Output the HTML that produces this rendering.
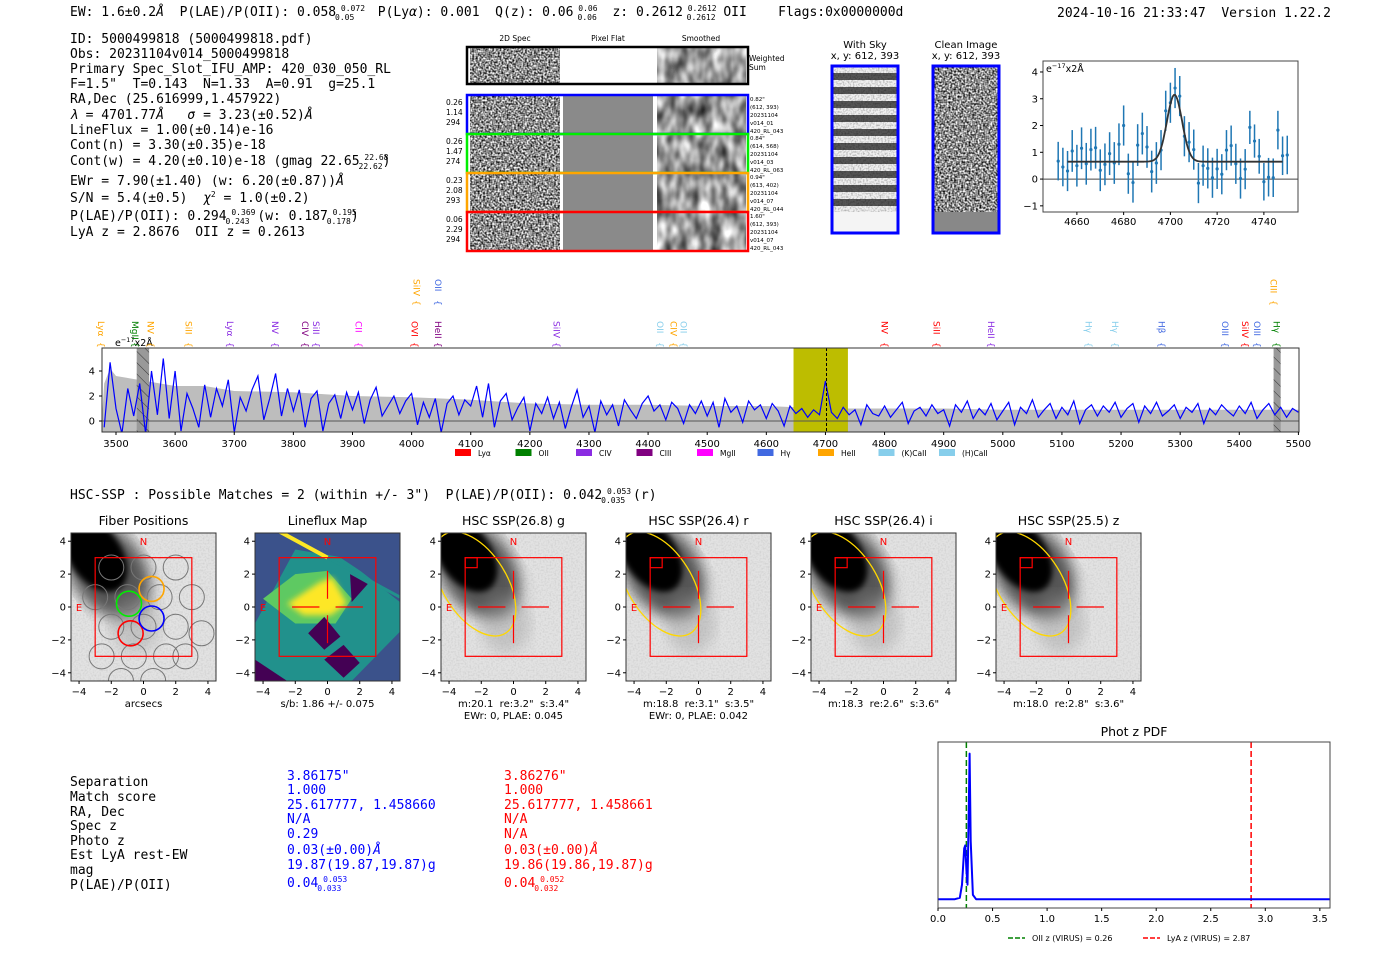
<!DOCTYPE html>
<html><head><meta charset="utf-8">
<style>
html,body{margin:0;padding:0;background:#fff;}
body{width:1400px;height:953px;overflow:hidden;}
svg{display:block;}
text{white-space:pre;}
.mono{font-family:"DejaVu Sans Mono","Liberation Mono",monospace;}
.sans{font-family:"DejaVu Sans","Liberation Sans",sans-serif;}
</style></head>
<body>
<svg id="root" width="1400" height="953" viewBox="0 0 1400 953" xmlns="http://www.w3.org/2000/svg">
<defs>
  <filter id="noise" x="0" y="0" width="100%" height="100%" color-interpolation-filters="sRGB">
    <feTurbulence type="fractalNoise" baseFrequency="0.55" numOctaves="1" seed="3"/>
    <feColorMatrix type="matrix" values="2 0 0 0 -0.45  2 0 0 0 -0.45  2 0 0 0 -0.45  0 0 0 0 1"/>
  </filter>
  <filter id="grain" x="0" y="0" width="100%" height="100%" color-interpolation-filters="sRGB">
    <feTurbulence type="fractalNoise" baseFrequency="0.6" numOctaves="1" seed="7"/>
    <feColorMatrix type="matrix" values="0 0 0 0 0  0 0 0 0 0  0 0 0 0 0  0 0 0 -1.2 0.7"/>
  </filter>
  <filter id="smooth" x="0" y="0" width="100%" height="100%" color-interpolation-filters="sRGB">
    <feTurbulence type="fractalNoise" baseFrequency="0.09 0.05" numOctaves="2" seed="11"/>
    <feColorMatrix type="matrix" values="1.2 0 0 0 0  1.2 0 0 0 0  1.2 0 0 0 0  0 0 0 0 1"/>
  </filter>
  <filter id="blur6"><feGaussianBlur stdDeviation="7"/></filter>
  <filter id="blur3"><feGaussianBlur stdDeviation="3"/></filter>
  <pattern id="skystripes" width="10" height="14" patternUnits="userSpaceOnUse">
    <rect width="10" height="14" fill="#f0f0f0"/><rect y="3" width="10" height="7" fill="#555"/>
  </pattern>
  <pattern id="hatch" width="8" height="8" patternUnits="userSpaceOnUse" patternTransform="rotate(-45)">
    <rect width="8" height="8" fill="#999"/><line x1="0" y1="0" x2="0" y2="8" stroke="#333" stroke-width="1"/>
  </pattern>
  <clipPath id="specclip"><rect x="102" y="348" width="1197" height="84"/></clipPath>
  <clipPath id="fitclip"><rect x="1043" y="61" width="255" height="151"/></clipPath>
  <clipPath id="pdfclip"><rect x="938" y="742" width="392" height="166"/></clipPath>
</defs>

<!-- header -->
<g class="mono" font-size="13" fill="#000">
  <text x="70" y="16">EW: 1.6±0.2<tspan font-style="italic">Å</tspan>  P(LAE)/P(OII): 0.058<tspan font-size="8" dy="-5"> 0.072</tspan><tspan font-size="8" dx="-30" dy="9">0.05</tspan><tspan dy="-4">   P(Ly<tspan font-style="italic">α</tspan>): 0.001  Q(z): 0.06</tspan><tspan font-size="8" dy="-5"> 0.06</tspan><tspan font-size="8" dx="-20" dy="9">0.06</tspan><tspan dy="-4">  z: 0.2612</tspan><tspan font-size="8" dy="-5"> 0.2612</tspan><tspan font-size="8" dx="-30" dy="9">0.2612</tspan><tspan dy="-4"> OII    Flags:0x0000000d</tspan></text>
  <text x="1057" y="17">2024-10-16 21:33:47  Version 1.22.2</text>
</g>

<!-- info block -->
<g class="mono" font-size="13" fill="#000">
  <text x="70" y="43">ID: 5000499818 (5000499818.pdf)</text>
  <text x="70" y="58">Obs: 20231104v014_5000499818</text>
  <text x="70" y="73">Primary Spec_Slot_IFU_AMP: 420_030_050_RL</text>
  <text x="70" y="88">F=1.5"  T=0.143  N=1.33  A=0.91  g=25.1</text>
  <text x="70" y="103">RA,Dec (25.616999,1.457922)</text>
  <text x="70" y="119"><tspan font-style="italic">λ</tspan> = 4701.77<tspan font-style="italic">Å</tspan>   <tspan font-style="italic">σ</tspan> = 3.23(±0.52)<tspan font-style="italic">Å</tspan></text>
  <text x="70" y="134">LineFlux = 1.00(±0.14)e-16</text>
  <text x="70" y="149">Cont(n) = 3.30(±0.35)e-18</text>
  <text x="70" y="165">Cont(w) = 4.20(±0.10)e-18 (gmag 22.65<tspan font-size="8" dy="-5"> 22.68</tspan><tspan font-size="8" dx="-30" dy="9">22.62</tspan><tspan dy="-4">)</tspan></text>
  <text x="70" y="185">EWr = 7.90(±1.40) (w: 6.20(±0.87))<tspan font-style="italic">Å</tspan></text>
  <text x="70" y="202">S/N = 5.4(±0.5)  <tspan font-style="italic">χ</tspan><tspan font-size="8" dy="-5">2</tspan><tspan dy="5"> = 1.0(±0.2)</tspan></text>
  <text x="70" y="220">P(LAE)/P(OII): 0.294<tspan font-size="8" dy="-5"> 0.369</tspan><tspan font-size="8" dx="-30" dy="9">0.243</tspan><tspan dy="-4"> (w: 0.187</tspan><tspan font-size="8" dy="-5"> 0.195</tspan><tspan font-size="8" dx="-30" dy="9">0.178</tspan><tspan dy="-4">)</tspan></text>
  <text x="70" y="236">LyA z = 2.8676  OII z = 0.2613</text>
</g>

<!-- 2D spectra cutouts -->
<g id="cutouts" class="sans">
  <text x="515" y="41" font-size="7.5" text-anchor="middle">2D Spec</text>
  <text x="608" y="41" font-size="7.5" text-anchor="middle">Pixel Flat</text>
  <text x="701" y="41" font-size="7.5" text-anchor="middle">Smoothed</text>
</g>

<!-- with sky / clean image -->
<g class="sans" font-size="10" text-anchor="middle">
  <text x="865" y="48">With Sky</text><text x="865" y="59">x, y: 612, 393</text>
  <text x="966" y="48">Clean Image</text><text x="966" y="59">x, y: 612, 393</text>
  <rect x="832" y="66" width="66" height="167" fill="url(#skystripes)"/>
  <rect x="832" y="66" width="66" height="167" filter="url(#grain)" opacity="0.6"/>
  <rect x="832" y="212" width="66" height="21" fill="#f4f4f4"/>
  <rect x="832" y="66" width="66" height="167" fill="none" stroke="#0000ff" stroke-width="3"/>
  <rect x="933" y="66" width="66" height="167" fill="#888"/>
  <rect x="933" y="66" width="66" height="146" filter="url(#noise)"/>
  <rect x="933" y="66" width="66" height="167" fill="none" stroke="#0000ff" stroke-width="3"/>
</g>

<g id="fit" class="sans"></g>
<g id="spec" class="sans"></g>

<text x="70" y="499" class="mono" font-size="13">HSC-SSP : Possible Matches = 2 (within +/- 3")  P(LAE)/P(OII): 0.042<tspan font-size="8" dy="-5"> 0.053</tspan><tspan font-size="8" dx="-30" dy="9">0.035</tspan><tspan dy="-4"> (r)</tspan></text>

<g id="panels" class="sans"></g>

<!-- match table -->
<g class="mono" font-size="13">
  <g fill="#000">
    <text x="70" y="786">Separation</text><text x="70" y="801">Match score</text><text x="70" y="816">RA, Dec</text>
    <text x="70" y="830">Spec z</text><text x="70" y="845">Photo z</text><text x="70" y="859">Est LyA rest-EW</text>
    <text x="70" y="874">mag</text><text x="70" y="889">P(LAE)/P(OII)</text>
  </g>
  <g fill="#0000ff">
    <text x="287" y="780">3.86175"</text><text x="287" y="794">1.000</text><text x="287" y="809">25.617777, 1.458660</text>
    <text x="287" y="823">N/A</text><text x="287" y="838">0.29</text><text x="287" y="854">0.03(±0.00)<tspan font-style="italic">Å</tspan></text>
    <text x="287" y="869">19.87(19.87,19.87)g</text>
    <text x="287" y="887">0.04<tspan font-size="8" dy="-5"> 0.053</tspan><tspan font-size="8" dx="-30" dy="9">0.033</tspan></text>
  </g>
  <g fill="#ff0000">
    <text x="504" y="780">3.86276"</text><text x="504" y="794">1.000</text><text x="504" y="809">25.617777, 1.458661</text>
    <text x="504" y="823">N/A</text><text x="504" y="838">N/A</text><text x="504" y="854">0.03(±0.00)<tspan font-style="italic">Å</tspan></text>
    <text x="504" y="869">19.86(19.86,19.87)g</text>
    <text x="504" y="887">0.04<tspan font-size="8" dy="-5"> 0.052</tspan><tspan font-size="8" dx="-30" dy="9">0.032</tspan></text>
  </g>
</g>

<g id="pdf" class="sans"></g>
</svg>

<script>
// ---------- data ----------
const fitWave = [4652,4654,4656,4658,4660,4662,4664,4666,4668,4670,4672,4674,4676,4678,4680,4682,4684,4686,4688,4690,4692,4694,4696,4698,4700,4702,4704,4706,4708,4710,4712,4714,4716,4718,4720,4722,4724,4726,4728,4730,4732,4734,4736,4738,4740,4742,4744,4746,4748,4750];
const fitFlux = [0.67,0.45,0.3,1.05,0.5,1.15,0.57,1.1,1.17,0.33,0.55,0.95,0.6,1.3,2.0,0.2,-0.13,1.27,1.7,1.2,0.28,0.6,1.08,2.55,2.85,3.4,3.1,1.6,1.38,1.1,-0.15,0.5,0.4,0.05,0.38,0.18,1.08,1.25,0.57,0.02,0.37,1.93,1.42,0.85,-0.1,0.07,0.05,1.83,0.87,0.9];
const fitErr = [0.72,0.72,0.75,0.78,0.78,0.78,0.78,0.78,0.78,0.78,0.78,0.8,0.78,0.78,0.75,0.75,0.75,0.78,0.78,0.78,0.78,0.78,0.75,0.75,0.75,0.75,0.75,0.75,0.75,0.75,0.75,0.75,0.75,0.75,0.75,0.75,0.75,0.75,0.75,0.75,0.75,0.62,0.62,0.65,0.7,0.72,0.72,0.72,0.72,0.72];
const fitModel = {cont:0.65, amp:2.5, mu:4701.77, sigma:3.23, from:4656, to:4748};
const fitXTicks = [4660,4680,4700,4720,4740];
const fitYTicks = [-1,0,1,2,3,4];

const specStart = 3480, specStep = 10;
const specFlux = [-0.5,4.7,1.0,-1,2.6,0.4,3.0,-1,4.0,0.5,5.0,0.2,
4.0,-0.8,2.2,1.0,-0.5,2.9,0.3,2.6,1.2,3.3,
-0.9,1.9,0.8,2.5,3.6,0.1,1.8,3.8,0.4,2.6,
0.8,2.5,-0.5,1.8,2.4,-0.8,1.4,2.1,0.2,2.3,
0.9,2.3,-0.2,1.7,2.7,0.4,1.2,2.0,0.6,1.6,
2.2,-0.3,1.5,0.3,1.8,-0.9,1.4,2.0,0.5,1.7,
1.2,2.8,0.3,3.0,-0.5,1.6,2.2,0.1,1.1,1.9,
-0.8,1.4,0.6,1.9,0.2,1.5,-0.6,1.1,2.5,0.3,
1.2,-0.9,1.6,0.5,1.3,-0.4,1.7,0.9,0.2,1.4,
2.0,0.8,1.3,0.1,1.5,1.0,-0.2,1.3,0.6,1.6,
0.4,1.5,-0.5,1.8,0.7,1.2,-0.1,1.6,0.9,1.3,
0.2,1.4,0.8,-0.4,1.2,0.6,1.0,0.3,0.9,0.5,
3.2,0.7,0.2,1.1,0.5,0.9,-0.3,1.3,0.6,0.4,
1.2,0.3,0.9,1.5,-0.2,0.8,1.1,0.4,1.3,0.6,
0.9,-0.4,1.3,0.7,1.6,0.2,1.0,0.5,1.4,0.1,
0.8,1.5,-0.3,1.1,0.6,1.7,0.3,0.9,1.4,0.2,
1.1,0.5,1.6,-0.2,0.9,1.3,0.4,1.2,0.7,1.5,
0.3,1.0,1.4,-0.1,1.2,0.6,1.5,0.4,0.8,1.3,
0.2,1.1,0.7,1.4,-0.2,1.0,0.5,1.3,0.8,0.4,
1.2,0.6,1.5,0.2,0.9,1.4,0.5,1.1,0.3,1.0,0.7];
const errWave = [3476,3480,3490,3500,3600,3650,3700,3800,3900,4000,4100,4200,4300,4400,4500,4600,4700,4800,4900,5000,5100,5200,5300,5400,5501];
const errLevel = [0,3.0,4.2,3.6,2.8,2.8,2.4,2.3,2.0,1.9,1.7,1.4,1.3,1.3,1.2,1.2,1.0,1.0,1.0,0.9,0.9,0.9,0.9,0.9,0.9];
const specXTicks = [3500,3600,3700,3800,3900,4000,4100,4200,4300,4400,4500,4600,4700,4800,4900,5000,5100,5200,5300,5400,5500];
const specYTicks = [0,2,4];
const lineNames = ["Lyα","MgII","NV","SiII","Lyα","NV","CIV","SiII","CII","OVI","SiIV","OII","HeII","SiIV","OII","CIV","OII","NV","SiII","HeII","Hγ","Hγ","Hβ","OIII","SiIV","OIII","CIII","Hγ"];
const lineWave = [3475,3532,3558,3623,3693,3769,3820,3838,3910,4005,4008,4045,4045,4245,4420,4443,4460,4800,4888,4980,5145,5190,5268,5376,5410,5430,5458,5463];
const lineColor = ["#ffa500","#008000","#ffa500","#ffa500","#8a2be2","#8a2be2","#800080","#8a2be2","#ff00ff","#ff0000","#ffa500","#4169e1","#800080","#8a2be2","#87ceeb","#ffa500","#87ceeb","#ff0000","#ff0000","#8a2be2","#87ceeb","#87ceeb","#4169e1","#4169e1","#ff0000","#4169e1","#ffa500","#008000"];
const lineUpper = [0,0,0,0,0,0,0,0,0,0,1,1,0,0,0,0,0,0,0,0,0,0,0,0,0,0,1,0];
const legendNames = ["Lyα","OII","CIV","CIII","MgII","Hγ","HeII","(K)CaII","(H)CaII"];
const legendColors = ["#ff0000","#008000","#8a2be2","#800080","#ff00ff","#4169e1","#ffa500","#87ceeb","#87ceeb"];

const pdfZ = [0,0.15,0.2,0.22,0.24,0.25,0.26,0.27,0.28,0.29,0.3,0.32,0.35,0.5,1,2,3,3.6];
const pdfP = [0,0,0.01,0.1,0.35,0.37,0.2,0.1,0.5,1.0,0.4,0.03,0,0,0,0,0,0];
const pdfXTicks = [0,0.5,1,1.5,2,2.5,3,3.5];
const pdfMarkers = [0.26,2.87];
const pdfMarkerColors = ["#008000","#ff0000"];
const pdfLegend = ["OII z (VIRUS) = 0.26","LyA z (VIRUS) = 2.87"];

const cutoutLabels = [["0.26","1.14","294"],["0.26","1.47","274"],["0.23","2.08","293"],["0.06","2.29","294"]];
const cutoutInfo = [["0.82\"","(612, 393)","20231104","v014_01","420_RL_043"],["0.84\"","(614, 568)","20231104","v014_03","420_RL_063"],["0.94\"","(613, 402)","20231104","v014_07","420_RL_044"],["1.60\"","(612, 393)","20231104","v014_07","420_RL_043"]];
const cutoutColors = ["#0000ff","#00ee00","#ffa500","#ff0000"];

const panelTitles = ["Fiber Positions","Lineflux Map","HSC SSP(26.8) g","HSC SSP(26.4) r","HSC SSP(26.4) i","HSC SSP(25.5) z"];
const panelCaps = [["arcsecs"],["s/b: 1.86 +/- 0.075"],["m:20.1  re:3.2\"  s:3.4\"","EWr: 0, PLAE: 0.045"],["m:18.8  re:3.1\"  s:3.5\"","EWr: 0, PLAE: 0.042"],["m:18.3  re:2.6\"  s:3.6\""],["m:18.0  re:2.8\"  s:3.6\""]];
const panelTicks = [-4,-2,0,2,4];

// ---------- helpers ----------
const NS = "http://www.w3.org/2000/svg";
function mk(parent, tag, attrs, txt){
  const el = document.createElementNS(NS, tag);
  for (const k in attrs) el.setAttribute(k, attrs[k]);
  if (txt !== undefined) el.textContent = txt;
  parent.appendChild(el);
  return el;
}
function minus(v){ return String(v).replace('-', '−'); }

// ---------- cutouts ----------
(function(){
  const g = document.getElementById('cutouts');
  let r = mk(g,'rect',{x:470,y:48,width:90,height:35,filter:'url(#noise)'});
  
  
  mk(g,'rect',{x:657,y:48,width:89,height:35,filter:'url(#smooth)'});
  let b = mk(g,'rect',{x:467,y:47,width:281,height:37,fill:'none',stroke:'#000','stroke-width':2.5});
  
  
  mk(g,'text',{x:749,y:61,'font-size':7.5},'Weighted');
  mk(g,'text',{x:749,y:70,'font-size':7.5},'Sum');
  const tops = [96,135,174,213];
  tops.forEach((y,i)=>{
    const h = 37;
    const a = mk(g,'rect',{x:470,y:y,width:90,height:h,filter:'url(#noise)'});
    
    
    const p = mk(g,'rect',{x:563,y:y,width:90,height:h,fill:'#8a8a8a'});
    
    
    const s = mk(g,'rect',{x:657,y:y,width:89,height:h,filter:'url(#smooth)'});
    
    
    const f = mk(g,'rect',{x:467,y:y-1,width:281,height:h+2,fill:'none',stroke:cutoutColors[i],'stroke-width':2.5});
    
    
    cutoutLabels[i].forEach((t,j)=>{ mk(g,'text',{x:446,y:y+9+j*10,'font-size':7.5},t); });
    cutoutInfo[i].forEach((t,j)=>{ mk(g,'text',{x:750,y:y+5+j*8,'font-size':5.5},t); });
  });
})();

// ---------- fit plot ----------
(function(){
  const g = document.getElementById('fit');
  const X0=1043,X1=1298,Y0=61,Y1=212, xmin=4645.5,xmax=4754.6,ymin=-1.23,ymax=4.41;
  const sx = v => X0 + (v-xmin)/(xmax-xmin)*(X1-X0);
  const sy = v => Y1 - (v-ymin)/(ymax-ymin)*(Y1-Y0);
  mk(g,'rect',{x:X0,y:Y0,width:X1-X0,height:Y1-Y0,fill:'#fff'});
  const cg = mk(g,'g',{'clip-path':'url(#fitclip)'});
  mk(cg,'line',{x1:X0,x2:X1,y1:sy(0),y2:sy(0),stroke:'#444','stroke-width':1});
  fitWave.forEach((w,i)=>{
    const e = mk(cg,'line',{x1:sx(w),x2:sx(w),y1:sy(fitFlux[i]-fitErr[i]),y2:sy(fitFlux[i]+fitErr[i]),stroke:'#1f77b4','stroke-width':1.5});
    
    
    const c = mk(cg,'circle',{cx:sx(w),cy:sy(fitFlux[i]),r:1.6,fill:'#1f77b4'});
    
    
  });
  let d='';
  for(let w=fitModel.from; w<=fitModel.to; w+=0.5){
    const v = fitModel.cont + fitModel.amp*Math.exp(-0.5*Math.pow((w-fitModel.mu)/fitModel.sigma,2));
    d += (d?'L':'M')+sx(w).toFixed(1)+','+sy(v).toFixed(1);
  }
  const m = mk(cg,'path',{d:d,fill:'none',stroke:'#333','stroke-width':1.8});
  
  
  mk(g,'rect',{x:X0,y:Y0,width:X1-X0,height:Y1-Y0,fill:'none',stroke:'#444','stroke-width':1});
  fitXTicks.forEach(t=>{
    mk(g,'line',{x1:sx(t),x2:sx(t),y1:Y1,y2:Y1+3,stroke:'#000'});
    const tl = mk(g,'text',{x:sx(t),y:Y1+13,'font-size':10,'text-anchor':'middle'},t);
    
    
  });
  fitYTicks.forEach(t=>{
    mk(g,'line',{x1:X0-3,x2:X0,y1:sy(t),y2:sy(t),stroke:'#000'});
    const tl = mk(g,'text',{x:X0-5,y:sy(t)+3.5,'font-size':10,'text-anchor':'end'},minus(t));
    
    
  });
  const u = mk(g,'text',{x:X0+3,y:Y0+11,'font-size':9.5},'e');
  
  
  mk(u,'tspan',{'font-size':6.5,dy:-4},'−17');
  mk(u,'tspan',{dy:4},'x2Å');
})();

// ---------- full spectrum ----------
(function(){
  const g = document.getElementById('spec');
  const X0=102,X1=1299,Y0=348,Y1=432, xmin=3476.3,xmax=5501,ymin=-0.88,ymax=5.84;
  const sx = v => X0 + (v-xmin)/(xmax-xmin)*(X1-X0);
  const sy = v => Y1 - (v-ymin)/(ymax-ymin)*(Y1-Y0);
  const cg = mk(g,'g',{'clip-path':'url(#specclip)'});
  let d = 'M'+sx(errWave[0])+','+Y1;
  errWave.forEach((w,i)=>{ d += 'L'+sx(w).toFixed(1)+','+sy(errLevel[i]).toFixed(1); });
  d += 'L'+sx(errWave[errWave.length-1])+','+Y1+'Z';
  const eb = mk(cg,'path',{d:d,fill:'#bdbdbd'});
  
  
  const band = mk(cg,'rect',{x:sx(4646),y:Y0,width:sx(4738)-sx(4646),height:Y1-Y0,fill:'#bdbd00'});
  
  
  const h1 = mk(cg,'rect',{x:sx(3535),y:Y0,width:sx(3556)-sx(3535),height:Y1-Y0,fill:'url(#hatch)'});
  
  
  const h2 = mk(cg,'rect',{x:sx(5458),y:Y0,width:sx(5470)-sx(5458),height:Y1-Y0,fill:'url(#hatch)'});
  
  
  mk(cg,'line',{x1:X0,x2:X1,y1:sy(0),y2:sy(0),stroke:'#555','stroke-width':1});
  let p='';
  specFlux.forEach((v,i)=>{ p += (i?'L':'M')+sx(specStart+i*specStep).toFixed(1)+','+sy(v).toFixed(1); });
  const sl = mk(cg,'path',{d:p,fill:'none',stroke:'#0000ff','stroke-width':1.2});
  
  
  mk(cg,'line',{x1:sx(4701.77),x2:sx(4701.77),y1:Y0,y2:Y1,stroke:'#000','stroke-width':1,'stroke-dasharray':'3,2'});
  mk(g,'rect',{x:X0,y:Y0,width:X1-X0,height:Y1-Y0,fill:'none',stroke:'#333','stroke-width':1});
  specXTicks.forEach(t=>{
    mk(g,'line',{x1:sx(t),x2:sx(t),y1:Y1,y2:Y1+3,stroke:'#000'});
    const tl = mk(g,'text',{x:sx(t),y:Y1+15,'font-size':10,'text-anchor':'middle'},t);
    
    
  });
  specYTicks.forEach(t=>{
    mk(g,'line',{x1:X0-3,x2:X0,y1:sy(t),y2:sy(t),stroke:'#000'});
    const tl = mk(g,'text',{x:X0-7,y:sy(t)+3.5,'font-size':10,'text-anchor':'end'},t);
    
    
  });
  const u = mk(g,'text',{x:115,y:346,'font-size':9.5},'e');
  
  
  mk(u,'tspan',{'font-size':6.5,dy:-4},'−17');
  mk(u,'tspan',{dy:4},'x2Å');
  lineNames.forEach((n,i)=>{
    const x = sx(lineWave[i]);
    const top = lineUpper[i] ? 279 : 321;
    const t = mk(g,'text',{x:0,y:0,'font-size':9,fill:lineColor[i],transform:'translate('+(x-3)+','+top+') rotate(90)'},n);
    
    
    const br = mk(g,'text',{x:0,y:0,'font-size':9,fill:lineColor[i],transform:'translate('+(x-3)+','+(top+21)+') rotate(90)'},'{');
    
    
  });
  legendNames.forEach((n,i)=>{
    const lx = 455 + i*60.5;
    const r = mk(g,'rect',{x:lx,y:449,width:16,height:7,fill:legendColors[i]});
    
    
    const t = mk(g,'text',{x:lx+23,y:456,'font-size':7.5},n);
    
    
  });
})();

// ---------- imaging panels ----------
(function(){
  const g = document.getElementById('panels');
  const lefts = [71,255,441,626,811,996];
  const W=145, H=148, TOP=533;
  lefts.forEach((L,pi)=>{
    const sx = v => L + (v+4.5)/9*W;
    const sy = v => TOP + (4.5-v)/9*H;
    const pg = mk(g,'g',{});
    
    
    const cid = 'pc'+pi;
    const cp = mk(pg,'clipPath',{id:cid});
    mk(cp,'rect',{x:L,y:TOP,width:W,height:H});
    const ig = mk(pg,'g',{'clip-path':'url(#'+cid+')'});
    if(pi===1){
      mk(ig,'rect',{x:L,y:TOP,width:W,height:H,fill:'#3b528b'});
      mk(ig,'polygon',{points:[[sx(-4.5),sy(-1)],[sx(-2),sy(3.5)],[sx(1),sy(3)],[sx(4.5),sy(0.3)],[sx(4.5),sy(-1.5)],[sx(1.5),sy(-4.5)],[sx(-4.5),sy(-4.5)]].join(' '),fill:'#21918c'});
      mk(ig,'polygon',{points:[[sx(-4),sy(0.5)],[sx(-2),sy(2)],[sx(0),sy(2.2)],[sx(1.5),sy(0.5)],[sx(0.5),sy(-1)],[sx(-2),sy(-1)]].join(' '),fill:'#5ec962'});
      mk(ig,'polygon',{points:[[sx(-2.5),sy(0.2)],[sx(-0.5),sy(1.5)],[sx(0.3),sy(1.8)],[sx(1.2),sy(0.2)],[sx(0.2),sy(-0.5)],[sx(-1.5),sy(-0.5)]].join(' '),fill:'#fde725',filter:'url(#blur3)'});
      mk(ig,'polygon',{points:[[sx(-1.2),sy(-1.6)],[sx(-0.2),sy(-0.6)],[sx(0.8),sy(-1.8)],[sx(-0.2),sy(-2.6)]].join(' '),fill:'#440154'});
      mk(ig,'polygon',{points:[[sx(1.4),sy(2)],[sx(2.5),sy(1.4)],[sx(1.5),sy(0.3)]].join(' '),fill:'#440154'});
      mk(ig,'polygon',{points:[[sx(-4.5),sy(-3.2)],[sx(-2.5),sy(-4.5)],[sx(-4.5),sy(-4.5)]].join(' '),fill:'#440154'});
      mk(ig,'polygon',{points:[[sx(-0.2),sy(-3.2)],[sx(1),sy(-2.3)],[sx(2),sy(-3.4)],[sx(1),sy(-4.3)]].join(' '),fill:'#440154'});
      mk(ig,'polygon',{points:[[sx(-1.5),sy(4.5)],[sx(4.5),sy(0.6)],[sx(4.5),sy(4.5)]].join(' '),fill:'#3b528b'});
      mk(ig,'line',{x1:sx(-3),y1:sy(4.6),x2:sx(0),y2:sy(3),stroke:'#fde725','stroke-width':4});
      mk(ig,'line',{x1:sx(0),y1:sy(3),x2:sx(4.5),y2:sy(0.6),stroke:'#21918c','stroke-width':3});
    } else {
      mk(ig,'rect',{x:L,y:TOP,width:W,height:H,fill:'#e2e2e2'});
      mk(ig,'rect',{x:L,y:TOP,width:W,height:H,filter:'url(#grain)',opacity:0.15});
      mk(ig,'ellipse',{cx:sx(-2.2),cy:sy(2.2),rx:36,ry:52,fill:'#555',transform:'rotate(-35 '+sx(-2.2)+' '+sy(2.2)+')',filter:'url(#blur6)'});
      mk(ig,'ellipse',{cx:sx(-3),cy:sy(3.2),rx:26,ry:42,fill:'#000',transform:'rotate(-35 '+sx(-3)+' '+sy(3.2)+')',filter:'url(#blur3)'});
      mk(ig,'ellipse',{cx:sx(-0.5),cy:sy(-1),rx:25,ry:30,fill:'#999',opacity:0.4,filter:'url(#blur6)'});
    }
    if(pi===0){
      const fibers=[[-2,2.4],[0,2.4],[2,2.4],[-3,0.6],[-1,0.6],[1,0.6],[3,0.6],[-2,-1.2],[0,-1.2],[2,-1.2],[3.6,-1.6],[-2.6,-3],[-0.6,-3],[1.4,-3],[-1.4,-4.5],[0.6,-4.5],[2.6,-3]];
      fibers.forEach(f=>{ mk(ig,'circle',{cx:sx(f[0]),cy:sy(f[1]),r:12.5,fill:'none',stroke:'#777','stroke-width':1}); });
      [[-0.9,0.2,'#00ee00'],[0.5,1.1,'#ffa500'],[-0.8,-1.6,'#ff0000'],[0.5,-0.7,'#0000ff']].forEach(f=>{
        const c = mk(ig,'circle',{cx:sx(f[0]),cy:sy(f[1]),r:12.5,fill:'none',stroke:f[2],'stroke-width':1.6});
        
        
      });
    }
    if(pi>=2){
      mk(ig,'ellipse',{cx:sx(-2.4),cy:sy(1.4),rx:32,ry:58,fill:'none',stroke:'#ffd700','stroke-width':1.3,transform:'rotate(-32 '+sx(-2.4)+' '+sy(1.4)+')'});
      mk(ig,'rect',{x:sx(-3),y:sy(3),width:12,height:10,fill:'none',stroke:'#ff0000','stroke-width':1.2});
    }
    mk(ig,'rect',{x:sx(-3),y:sy(3),width:sx(3)-sx(-3),height:sy(-3)-sy(3),fill:'none',stroke:'#ff0000','stroke-width':1.2});
    if(pi>=1){
      mk(ig,'line',{x1:sx(-2.2),x2:sx(-0.5),y1:sy(0),y2:sy(0),stroke:'#ff0000','stroke-width':1.2});
      mk(ig,'line',{x1:sx(0.5),x2:sx(2.2),y1:sy(0),y2:sy(0),stroke:'#ff0000','stroke-width':1.2});
      mk(ig,'line',{x1:sx(0),x2:sx(0),y1:sy(2.2),y2:sy(0.5),stroke:'#ff0000','stroke-width':1.2});
      mk(ig,'line',{x1:sx(0),x2:sx(0),y1:sy(-0.5),y2:sy(-2.2),stroke:'#ff0000','stroke-width':1.2});
    }
    mk(ig,'text',{x:sx(0),y:sy(4)+4,'font-size':10,fill:'#ff0000','text-anchor':'middle'},'N');
    mk(ig,'text',{x:sx(-4),y:sy(0)+4,'font-size':10,fill:'#ff0000','text-anchor':'middle'},'E');
    mk(pg,'rect',{x:L,y:TOP,width:W,height:H,fill:'none',stroke:'#333','stroke-width':1});
    const tt = mk(pg,'text',{x:L+W/2,y:TOP-8,'font-size':12.5,'text-anchor':'middle'},panelTitles[pi]);
    
    
    panelTicks.forEach(t=>{
      mk(pg,'line',{x1:sx(t),x2:sx(t),y1:TOP+H,y2:TOP+H+3,stroke:'#000'});
      mk(pg,'text',{x:sx(t),y:TOP+H+14,'font-size':10,'text-anchor':'middle'},minus(t));
      mk(pg,'line',{x1:L-3,x2:L,y1:sy(t),y2:sy(t),stroke:'#000'});
      mk(pg,'text',{x:L-5,y:sy(t)+3.5,'font-size':10,'text-anchor':'end'},minus(t));
    });
    panelCaps[pi].forEach((c,j)=>{
      const ct = mk(pg,'text',{x:L+W/2,y:TOP+H+26+j*12,'font-size':10,'text-anchor':'middle'},c);
      
      
    });
  });
})();

// ---------- phot z pdf ----------
(function(){
  const g = document.getElementById('pdf');
  const X0=938,X1=1330,Y0=742,Y1=908, xmin=0,xmax=3.593,ymin=-0.06,ymax=1.08;
  const sx = v => X0 + (v-xmin)/(xmax-xmin)*(X1-X0);
  const sy = v => Y1 - (v-ymin)/(ymax-ymin)*(Y1-Y0);
  const tt = mk(g,'text',{x:(X0+X1)/2,y:736,'font-size':12.5,'text-anchor':'middle'},'Phot z PDF');
  
  
  const cg = mk(g,'g',{'clip-path':'url(#pdfclip)'});
  pdfMarkers.forEach((z,i)=>{
    const l = mk(cg,'line',{x1:sx(z),x2:sx(z),y1:Y0,y2:Y1,stroke:pdfMarkerColors[i],'stroke-width':1.5,'stroke-dasharray':'6,3'});
    
    
  });
  let d='';
  pdfZ.forEach((z,i)=>{ d += (i?'L':'M')+sx(z).toFixed(1)+','+sy(pdfP[i]).toFixed(1); });
  const pl = mk(cg,'path',{d:d,fill:'none',stroke:'#0000ff','stroke-width':2,'stroke-linejoin':'round'});
  
  
  mk(g,'rect',{x:X0,y:Y0,width:X1-X0,height:Y1-Y0,fill:'none',stroke:'#444','stroke-width':1});
  pdfXTicks.forEach(t=>{
    mk(g,'line',{x1:sx(t),x2:sx(t),y1:Y1,y2:Y1+3,stroke:'#000'});
    const tl = mk(g,'text',{x:sx(t),y:Y1+14,'font-size':10,'text-anchor':'middle'},t.toFixed(1));
    
    
  });
  pdfLegend.forEach((n,i)=>{
    const lx = i===0 ? 1008 : 1143;
    const l = mk(g,'line',{x1:lx,x2:lx+17,y1:938,y2:938,stroke:pdfMarkerColors[i],'stroke-width':1.5,'stroke-dasharray':'5,2'});
    
    
    const t = mk(g,'text',{x:lx+24,y:941,'font-size':8},n);
    
    
  });
})();
</script>
</body></html>
